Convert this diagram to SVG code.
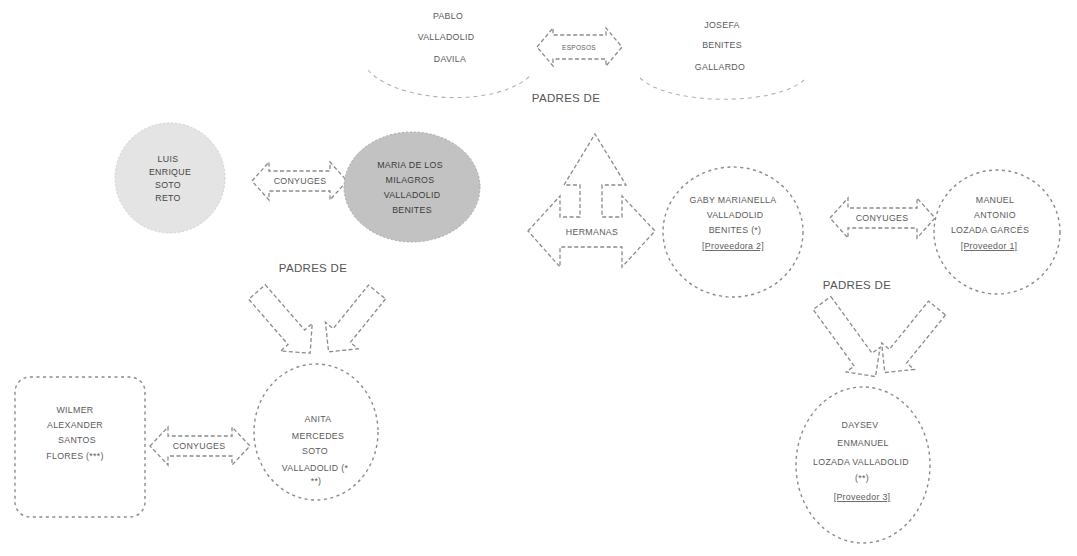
<svg xmlns="http://www.w3.org/2000/svg" width="1077" height="556" viewBox="0 0 1077 556">
<style>
.bg{fill:#ffffff}
.n{fill:#ffffff;stroke:#8a8a8a;stroke-width:1.4;stroke-dasharray:3 3.5}
.faint{fill:none;stroke:#b0b0b0;stroke-width:1.1;stroke-dasharray:4 4}
.a{fill:#ffffff;stroke:#8a8a8a;stroke-width:1.3;stroke-dasharray:4 2.5}
.t{font-family:"Liberation Sans",Arial,sans-serif;font-size:8.8px;fill:#5a5a5a;text-anchor:middle;letter-spacing:0.3px}
.lbl{font-family:"Liberation Sans",Arial,sans-serif;font-size:11.5px;fill:#555;text-anchor:middle;letter-spacing:0.3px}
.u{text-decoration:underline}
</style>
<rect class="bg" x="0" y="0" width="1077" height="556"/>

<g id="connectors">
  <g id="esposos">
    <path class="a" d="M537,47 L553,28 L553,35 L606,35 L606,28 L622,47 L606,66 L606,59 L553,59 L553,66 Z"/>
    <text class="t" x="579" y="50" style="font-size:6.5px">ESPOSOS</text>
  </g>
  <text class="lbl" x="566" y="102">PADRES DE</text>
  <g id="conyuges1">
    <path class="a" d="M252,181 L269,162 L269,171 L330,171 L330,162 L347,181 L330,200 L330,191 L269,191 L269,200 Z"/>
    <text class="t" x="300" y="184">CONYUGES</text>
  </g>
  <g id="hermanas">
    <path class="a" d="M528,231 L560,196 L560,217 L580,217 L580,185 L564,185 L595,134 L626,185 L602,185 L602,217 L622,217 L622,196 L655,231 L622,267 L622,247 L560,247 L560,267 Z"/>
    <text class="t" x="592" y="235">HERMANAS</text>
  </g>
  <g id="conyuges2">
    <path class="a" d="M830,218 L848,198 L848,208 L917,208 L917,198 L935,218 L917,238 L917,228 L848,228 L848,238 Z"/>
    <text class="t" x="882" y="221">CONYUGES</text>
  </g>
  <text class="lbl" x="313" y="272">PADRES DE</text>
  <path class="a" transform="translate(257,292) rotate(49)" d="M0,-11 L60,-11 L60,-21 L81,0 L60,21 L60,11 L0,11 Z"/>
  <path class="a" transform="translate(377,292) rotate(129)" d="M0,-11 L56,-11 L56,-21 L77,0 L56,21 L56,11 L0,11 Z"/>
  <text class="lbl" x="857" y="289">PADRES DE</text>
  <path class="a" transform="translate(822,303) rotate(54)" d="M0,-11 L70,-11 L70,-21 L91,0 L70,21 L70,11 L0,11 Z"/>
  <path class="a" transform="translate(937,308) rotate(129)" d="M0,-11 L62,-11 L62,-21 L83,0 L62,21 L62,11 L0,11 Z"/>
  <g id="conyuges3">
    <path class="a" d="M150,446 L168,427 L168,436 L232,436 L232,427 L250,446 L232,465 L232,456 L168,456 L168,465 Z"/>
    <text class="t" x="199" y="449">CONYUGES</text>
  </g>
</g>

<g id="pablo">
  <path class="faint" d="M368,70 C398,104 500,108 532,74"/>
  <text class="t" x="448" y="19">PABLO</text>
  <text class="t" x="446" y="40">VALLADOLID</text>
  <text class="t" x="450" y="62">DAVILA</text>
</g>
<g id="josefa">
  <path class="faint" d="M640,78 C670,106 775,106 804,80"/>
  <text class="t" x="722" y="28">JOSEFA</text>
  <text class="t" x="722" y="48">BENITES</text>
  <text class="t" x="720" y="70">GALLARDO</text>
</g>
<g id="luis">
  <circle cx="170" cy="178" r="55" fill="#e4e4e4" stroke="#d0d0d0" stroke-width="1" stroke-dasharray="2 2"/>
  <text class="t" x="168" y="162" style="fill:#444">LUIS</text>
  <text class="t" x="170" y="175" style="fill:#444">ENRIQUE</text>
  <text class="t" x="168" y="188" style="fill:#444">SOTO</text>
  <text class="t" x="168" y="201" style="fill:#444">RETO</text>
</g>
<g id="maria">
  <ellipse cx="412" cy="187" rx="68" ry="55" fill="#c2c2c2" stroke="#a8a8a8" stroke-width="1" stroke-dasharray="2 2"/>
  <text class="t" x="410" y="168" style="fill:#3a3a3a">MARIA DE LOS</text>
  <text class="t" x="410" y="183" style="fill:#3a3a3a">MILAGROS</text>
  <text class="t" x="412" y="198" style="fill:#3a3a3a">VALLADOLID</text>
  <text class="t" x="412" y="213" style="fill:#3a3a3a">BENITES</text>
</g>
<g id="gaby">
  <ellipse class="n" cx="733" cy="232" rx="70" ry="65"/>
  <text class="t" x="733" y="203">GABY MARIANELLA</text>
  <text class="t" x="735" y="218">VALLADOLID</text>
  <text class="t" x="735" y="233">BENITES (*)</text>
  <text class="t u" x="733" y="249">[Proveedora 2]</text>
</g>
<g id="manuel">
  <ellipse class="n" cx="997" cy="232" rx="63" ry="62"/>
  <text class="t" x="995" y="203">MANUEL</text>
  <text class="t" x="995" y="218">ANTONIO</text>
  <text class="t" x="990" y="233">LOZADA GARCÉS</text>
  <text class="t u" x="989" y="249">[Proveedor 1]</text>
</g>
<g id="anita">
  <ellipse class="n" cx="316" cy="432" rx="62" ry="68"/>
  <text class="t" x="318" y="422">ANITA</text>
  <text class="t" x="318" y="439">MERCEDES</text>
  <text class="t" x="315" y="454">SOTO</text>
  <text class="t" x="315" y="471">VALLADOLID (*</text>
  <text class="t" x="316" y="484">**)</text>
</g>
<g id="wilmer">
  <rect class="n" x="15" y="377" width="130" height="140" rx="15"/>
  <text class="t" x="75" y="413">WILMER</text>
  <text class="t" x="75" y="428">ALEXANDER</text>
  <text class="t" x="77" y="443">SANTOS</text>
  <text class="t" x="75" y="459">FLORES (***)</text>
</g>
<g id="daysev">
  <ellipse class="n" cx="863" cy="465" rx="67" ry="78"/>
  <text class="t" x="860" y="428">DAYSEV</text>
  <text class="t" x="863" y="446">ENMANUEL</text>
  <text class="t" x="861" y="465">LOZADA VALLADOLID</text>
  <text class="t" x="862" y="481">(**)</text>
  <text class="t u" x="862" y="500">[Proveedor 3]</text>
</g>
</svg>
